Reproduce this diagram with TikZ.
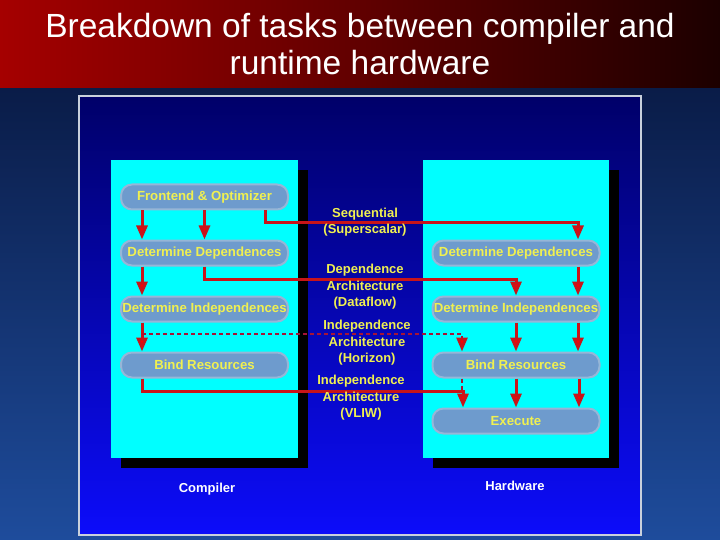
\documentclass[tikz,border=0pt]{standalone}
\usepackage{fontspec}
\setmainfont{Liberation Sans}
\usetikzlibrary{arrows.meta,calc}
\definecolor{cyanbox}{RGB}{0,255,255}
\definecolor{nodefill}{RGB}{110,155,205}
\definecolor{nodeedge}{RGB}{150,182,215}
\definecolor{ylw}{RGB}{240,240,80}
\definecolor{arrred}{RGB}{200,20,25}
\definecolor{dashred}{RGB}{165,20,55}
\definecolor{bgtop}{RGB}{10,28,72}
\definecolor{bgbot}{RGB}{30,76,156}
\definecolor{titleL}{RGB}{165,0,0}
\definecolor{titleR}{RGB}{28,0,0}
\definecolor{frtop}{RGB}{0,0,105}
\definecolor{frbot}{RGB}{12,12,250}
\definecolor{frline}{RGB}{200,208,220}
\tikzset{
  stage/.style={rounded corners=11pt, fill=nodefill, draw=nodeedge, line width=2pt,
    minimum width=167pt, minimum height=25pt, inner sep=0pt, text=ylw,
    font=\fontsize{13.2}{15}\selectfont\bfseries},
  flow/.style={draw=arrred, line width=3pt, -{Triangle[length=14pt,width=11pt,fill=red]}},
  dflow/.style={draw=dashred, line width=2.8pt, dash pattern=on 4pt off 3pt},
  dflowarr/.style={dflow, -{Triangle[length=14pt,width=11pt,fill=red,color=arrred]}},
  lbl/.style={text=ylw, font=\fontsize{13}{16.5}\selectfont\bfseries, inner sep=0pt, align=center},
  boxcaption/.style={text=white, font=\fontsize{13}{15}\selectfont\bfseries, inner sep=0pt},
  titletext/.style={text=white, font=\fontsize{33.5}{40}\selectfont, inner sep=0pt, anchor=base}
}
\begin{document}
\begin{tikzpicture}[x=1pt,y=-1pt]
\useasboundingbox (0,0) rectangle (720,540);
% backgrounds
\fill[top color=bgtop, bottom color=bgbot] (0,88) rectangle (720,540);
\fill[left color=titleL, right color=titleR] (0,0) rectangle (720,88);
\node[titletext] (t1) at (360,38) {Breakdown of tasks between compiler and};
\node[titletext] (t2) at (360,75) {runtime hardware};
\fill[top color=frtop, bottom color=frbot] (79,96) rectangle (641,535);
\draw[frline, line width=1.5pt] (79,96) rectangle (641,535);
% boxes
\fill[black] (121,170) rectangle (308,468);
\fill[cyanbox] (111,160) rectangle (298,458);
\fill[black] (433,170) rectangle (619,468);
\fill[cyanbox] (423,160) rectangle (609,458);
% compiler stages
\node[stage] (c1) at (204.5,197) {Frontend \& Optimizer};
\node[stage] (c2) at (204.5,253) {Determine Dependences};
\node[stage] (c3) at (204.5,309) {Determine Independences};
\node[stage] (c4) at (204.5,365) {Bind Resources};
% hardware stages
\node[stage] (h1) at (516,253) {Determine Dependences};
\node[stage] (h2) at (516,309) {Determine Independences};
\node[stage] (h3) at (516,365) {Bind Resources};
\node[stage] (h4) at (516,421) {Execute};
% compiler arrows
\draw[flow] ([xshift=-62.5pt]c1.south) -- ([xshift=-62.5pt]c2.north);
\draw[flow] (c1.south) -- (c2.north);
\draw[flow] ([xshift=-62.5pt]c2.south) -- ([xshift=-62.5pt]c3.north);
\draw[flow] ([xshift=-62.5pt]c3.south) -- ([xshift=-62.5pt]c4.north);
% hardware arrows
\draw[flow] ([xshift=62pt]h1.south) -- ([xshift=62pt]h2.north);
\draw[flow] (h2.south) -- (h3.north);
\draw[flow] ([xshift=62pt]h2.south) -- ([xshift=62pt]h3.north);
\draw[flow] (h3.south) -- (h4.north);
\draw[flow] ([xshift=63pt]h3.south) -- ([xshift=63pt]h4.north);
% cross connectors
\draw[flow] ([xshift=60.5pt]c1.south) -- ++(0,12) -| ([xshift=62pt]h1.north);
\draw[flow] (c2.south) -- ++(0,13) -| (h2.north);
\coordinate (hz) at (142,334);
\draw[dflowarr] (hz) -| ([xshift=-54pt]h3.north);
\draw[flow] ([xshift=-62.5pt]c4.south) -- ++(0,13) -| ([xshift=-53pt]h4.north);
\draw[dflow] ([xshift=-54pt]h3.south) -- ++(0,12);
% labels
\node[lbl] (l1) at (365,222) {Sequential\\(Superscalar)};
\node[lbl] (l2) at (365,287) {Dependence\\Architecture\\(Dataflow)};
\node[lbl] (l3) at (367,343) {Independence\\Architecture\\(Horizon)};
\node[lbl] (l4) at (361,398) {Independence\\Architecture\\(VLIW)};
\node[boxcaption] (cc) at (207,489) {Compiler};
\node[boxcaption] (hc) at (515,486) {Hardware};
\end{tikzpicture}
\end{document}
